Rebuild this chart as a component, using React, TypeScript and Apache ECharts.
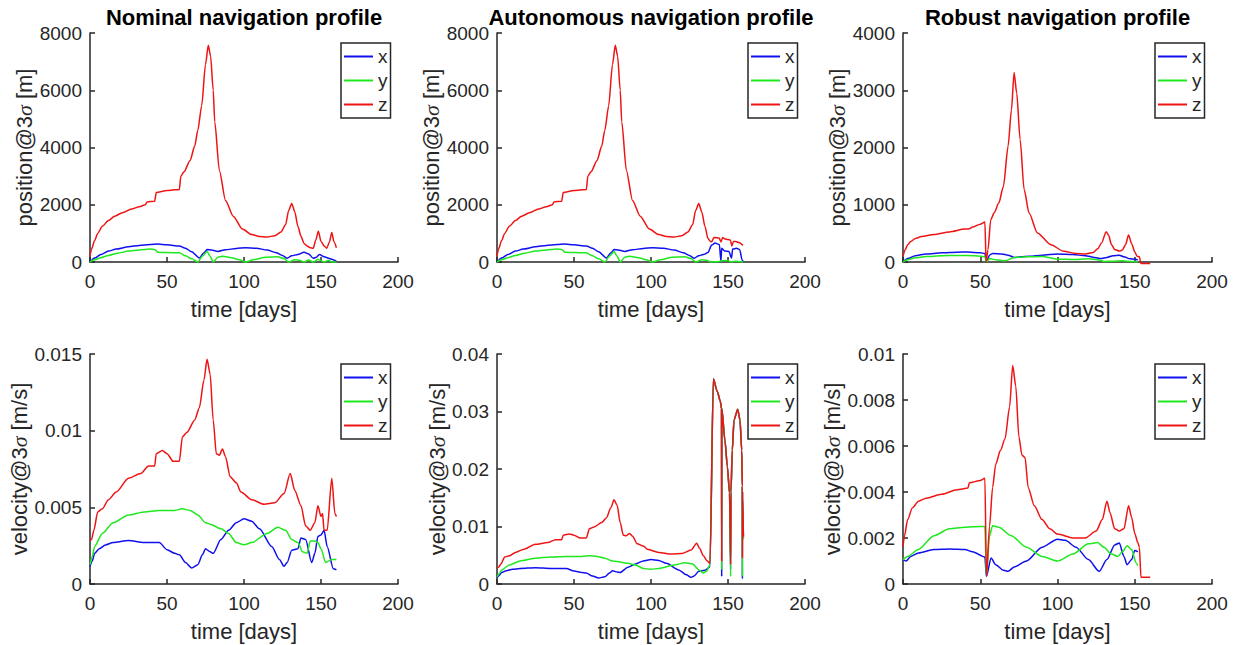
import React, { useEffect, useRef } from "react";
import * as echarts from "echarts";

type P = [number, number][];

const panelTitles = ["Nominal navigation profile", "Autonomous navigation profile", "Robust navigation profile"];
const legendNames = ["x", "y", "z"];
const lineColors = ["#1010ee", "#1ee81e", "#ee1414"];
const timeMax = 200;
const timeStep = 50;
const posMax = [8000, 8000, 4000];
const posStep = [2000, 2000, 1000];
const velMax = [0.015, 0.04, 0.01];
const velStep = [0.005, 0.01, 0.002];
const xName = "time [days]";
const posName = "{n|position@3}{s|σ}{n| [m]}";
const velName = "{n|velocity@3}{s|σ}{n| [m/s]}";

// ---------- Nominal: position ----------
const nomPosX: P = [[0,0],[3,140],[7,260],[12,380],[17,450],[25,530],[32,580],[39,610],[44,630],[50,600],[58,560],[62,480],[66,360],[71,140],[74,320],[76,440],[79,420],[83,370],[88,430],[95,470],[101,500],[108,480],[115,420],[121,320],[125,230],[128,130],[131,220],[135,260],[139,340],[142,280],[145,130],[147,170],[149,260],[152,180],[155,130],[158,80],[160,20]];
const nomPosY: P = [[0,0],[3,80],[7,150],[12,230],[18,310],[25,380],[32,420],[39,450],[42,440],[44,340],[50,330],[58,320],[62,220],[66,110],[70,0],[73,200],[76,370],[78,200],[80,0],[83,170],[86,200],[92,150],[97,80],[101,0],[106,80],[114,170],[122,180],[126,120],[129,0],[133,80],[136,60],[139,0],[142,70],[145,0],[148,100],[150,40],[152,0],[155,60],[157,0],[160,0]];
const nomPosZ: P = [[0,200],[1,450],[3,750],[5,1000],[8,1250],[12,1450],[16,1600],[21,1720],[27,1850],[32,1930],[36,2000],[37,2100],[42,2120],[43,2430],[50,2500],[55,2520],[58,2530],[59,3000],[61,3150],[65,3550],[68,4050],[70,4600],[72.5,5450],[75,6900],[76.8,7570],[78.3,7200],[80,6000],[81,4900],[84,3200],[88,2150],[93,1600],[99,1150],[105,960],[110,890],[115,870],[120,920],[124,1050],[127,1300],[129,1800],[131,2040],[133,1750],[135,1250],[137,900],[139,650],[141,560],[143,500],[145,480],[146.5,750],[148.3,1070],[150,720],[152,560],[153.7,480],[155.5,700],[157,1030],[158.4,710],[160,500]];

// ---------- Autonomous: position (tails after the common part) ----------
const autoPosXTail: P = [[131,220],[134,260],[137,330],[139.4,590],[141.6,660],[144.4,610],[145.4,30],[145.9,480],[148,380],[150.6,370],[152.3,140],[153,450],[155.5,480],[157.6,430],[159.2,60],[160,0]];
const autoPosYTail: P = [[133,80],[136,60],[139,0],[143,10],[145,30],[148,50],[150,40],[152,0],[155,30],[160,0]];
const autoPosZTail: P = [[131,2040],[133,1750],[135,1250],[137,820],[138.5,720],[139.5,710],[140.8,860],[144.2,840],[145.5,700],[146.5,860],[148,800],[151.5,770],[152.5,560],[153.5,720],[155,720],[157,680],[159.7,580]];

// ---------- Robust: position ----------
const robPosX: P = [[0,0],[3,60],[8,110],[15,140],[25,160],[35,170],[42,175],[50,160],[53,150],[54,0],[56,120],[58,150],[64,140],[68,120],[72,80],[76,90],[82,100],[90,120],[100,140],[110,130],[118,110],[124,80],[128,60],[132,80],[136,110],[140,120],[143,90],[147,55],[150,50],[152,40]];
const robPosY: P = [[0,0],[3,40],[8,75],[15,95],[25,110],[35,115],[42,115],[50,100],[53,90],[54,0],[56,60],[60,40],[66,20],[72,80],[80,90],[90,95],[100,50],[110,45],[120,55],[126,40],[130,10],[136,15],[142,20],[148,10],[152,5]];
const robPosZ: P = [[0,100],[1.5,220],[3,300],[5,360],[8,410],[12,445],[20,480],[30,525],[40,575],[43,580],[45,610],[50,660],[53,700],[53.8,0],[55,215],[56.8,740],[59,860],[62,1030],[65,1320],[68,2020],[70.2,2660],[71.9,3310],[73.6,2950],[75.8,2140],[78.4,1265],[81.6,856],[87,507],[95.7,303],[104,186],[112,150],[118,140],[123,165],[126,230],[128.5,330],[131.5,530],[133,470],[135,300],[137,220],[140,190],[142,210],[144,300],[146,470],[148,320],[150,180],[151.5,100],[153,90],[154,-25],[160,-25]];

// ---------- Nominal: velocity ----------
const nomVelX: P = [[0,0.00115],[1.5,0.0015],[3,0.002],[6,0.0023],[10,0.00255],[15,0.0027],[25,0.00284],[35,0.0027],[45,0.0027],[50,0.00224],[55,0.002],[58,0.0019],[62,0.0014],[66,0.00104],[70,0.00126],[73,0.0019],[75,0.0023],[78,0.0021],[80,0.002],[85,0.0029],[90,0.0035],[95,0.004],[100,0.00425],[105,0.0041],[110,0.0036],[118,0.00245],[123,0.0016],[126,0.00115],[128,0.0014],[131,0.0022],[135,0.0023],[137,0.003],[140,0.0029],[144,0.0014],[146,0.002],[148,0.0031],[150,0.0032],[152,0.0035],[154,0.00245],[158,0.001],[160,0.00093]];
const nomVelY: P = [[0,0.00126],[1.5,0.0018],[3,0.00245],[8,0.0033],[15,0.004],[25,0.0045],[35,0.0047],[45,0.0048],[55,0.0048],[60,0.0049],[65,0.0048],[70,0.0045],[75,0.004],[78,0.0039],[85,0.0036],[90,0.0033],[95,0.0027],[100,0.00256],[105,0.0027],[115,0.0033],[122,0.0037],[127,0.0035],[131,0.0029],[135,0.0027],[138,0.0021],[141,0.002],[143,0.0028],[146,0.0028],[148,0.0027],[150,0.0023],[153,0.0014],[157,0.0016],[160,0.0016]];
const nomVelZ: P = [[0,0.0028],[1,0.0029],[2.5,0.0035],[5,0.0047],[8,0.0049],[12,0.0055],[17,0.006],[25,0.0069],[33,0.0072],[38,0.0077],[42,0.0077],[43,0.0085],[47,0.0087],[50,0.0085],[54,0.008],[58,0.008],[60,0.0096],[63,0.0099],[68,0.0107],[71,0.0115],[74,0.0133],[76,0.01465],[78,0.0137],[80,0.0107],[82,0.0085],[84,0.0084],[86,0.0088],[88,0.0083],[91,0.007],[95,0.0066],[98,0.006],[105,0.0055],[113,0.0052],[120,0.0053],[126,0.0059],[130,0.0072],[133,0.0061],[137,0.0051],[140,0.0038],[143,0.0035],[146,0.004],[148,0.0051],[150,0.0044],[151,0.0046],[152,0.0035],[154,0.0035],[157,0.0069],[159,0.0046],[160,0.0044]];

// ---------- Autonomous: velocity (tails after the common part) ----------
const autoVelXTail: P = [[128,0.0014],[131,0.0022],[135,0.0024],[138.3,0.003],[140.5,0.0357],[143,0.0335],[145,0.0318],[145.8,0.0305],[145.9,0.0013],[146,0.0305],[148,0.025],[149.6,0.0204],[151,0.0158],[151.7,0.0025],[151.9,0.016],[152.8,0.0233],[153.9,0.0285],[156.3,0.0304],[157.8,0.0285],[158.9,0.0233],[159.3,0.017],[159.35,0.0009],[159.4,0.016],[160,0.0082]];
const autoVelYTail: P = [[127,0.0035],[131,0.0025],[134,0.0019],[136,0.0022],[138.3,0.0033],[140.5,0.0357],[143,0.0335],[145,0.0318],[145.8,0.0305],[145.9,0.0025],[146,0.0305],[148,0.025],[149.6,0.0204],[151,0.0158],[151.7,0.0013],[151.9,0.016],[152.8,0.0233],[153.9,0.0285],[156.3,0.0304],[157.8,0.0285],[158.9,0.0233],[159.3,0.017],[159.35,0.0013],[159.4,0.016],[160,0.0078]];
const autoVelZTail: P = [[126,0.0059],[129.7,0.0071],[131.5,0.0062],[134,0.0049],[136.5,0.004],[138.3,0.0036],[140.5,0.0357],[143,0.0335],[145,0.0318],[145.8,0.0305],[145.9,0.0039],[146,0.0305],[148,0.025],[149.6,0.0204],[151,0.0158],[151.7,0.0034],[151.9,0.016],[152.8,0.0233],[153.9,0.0285],[156.3,0.0304],[157.8,0.0285],[158.9,0.0233],[159.3,0.017],[159.35,0.0045],[159.4,0.016],[160,0.0082]];

// ---------- Robust: velocity ----------
const robVelX: P = [[0,0.00106],[2,0.001],[5,0.0012],[10,0.00135],[20,0.0015],[30,0.00152],[40,0.0015],[45,0.0014],[53,0.00117],[54,0.00033],[57,0.00113],[60,0.00084],[65,0.0006],[68,0.00055],[72,0.00074],[80,0.001],[90,0.0016],[100,0.00195],[105,0.0019],[112,0.0016],[120,0.00106],[127,0.00055],[132,0.00106],[137,0.0017],[140,0.00178],[143,0.0012],[145,0.00084],[148,0.00106],[150,0.00146],[152,0.0014]];
const robVelY: P = [[0,0.00106],[3,0.0012],[10,0.0015],[20,0.0021],[30,0.0024],[40,0.00247],[50,0.0025],[53,0.0025],[54,0.00033],[56,0.0021],[58,0.00253],[62,0.00247],[70,0.0021],[80,0.0016],[90,0.0012],[100,0.001],[110,0.0013],[120,0.00175],[126,0.0018],[130,0.0016],[135,0.0013],[139,0.0012],[142,0.0014],[145,0.00166],[148,0.0015],[151,0.0009],[152,0.0008]];
const robVelZ: P = [[0,0.00164],[1,0.0021],[3,0.0028],[6,0.0033],[10,0.0036],[15,0.00373],[25,0.0039],[35,0.0041],[42,0.00417],[43,0.0044],[50,0.0045],[53,0.0046],[54,0.00033],[56,0.0025],[58,0.0042],[60,0.0052],[63,0.0058],[66,0.0063],[69,0.0077],[71,0.0095],[73,0.0086],[75,0.0064],[77,0.0056],[79,0.0055],[81,0.0042],[85,0.0034],[90,0.0028],[95,0.0024],[100,0.00217],[110,0.002],[118,0.002],[125,0.0023],[129,0.0028],[132,0.0036],[134,0.0031],[137,0.0024],[140,0.0023],[143,0.0024],[146,0.0034],[148,0.0029],[150,0.0022],[152,0.0018],[153,0.0016],[154,0.00029],[160,0.00029]];

function joinAt(base: P, tail: P): P {
  const start = tail[0][0];
  return [...base.filter((p) => p[0] < start), ...tail];
}

const autoPosX = joinAt(nomPosX, autoPosXTail);
const autoPosY = joinAt(nomPosY, autoPosYTail);
const autoPosZ = joinAt(nomPosZ, autoPosZTail);
const autoVelX = joinAt(nomVelX, autoVelXTail);
const autoVelY = joinAt(nomVelY, autoVelYTail);
const autoVelZ = joinAt(nomVelZ, autoVelZTail);

const panelData: P[][] = [
  [nomPosX, nomPosY, nomPosZ],
  [autoPosX, autoPosY, autoPosZ],
  [robPosX, robPosY, robPosZ],
  [nomVelX, nomVelY, nomVelZ],
  [autoVelX, autoVelY, autoVelZ],
  [robVelX, robVelY, robVelZ],
];

const FONT = "'Liberation Sans', Arial, Helvetica, sans-serif";
const INK = "#262626";
const TICK_FS = 19;
const NAME_FS = 22;

const gridLefts = [90, 497, 903];
const gridWidths = [308, 308, 309];
const gridTops = [33, 354];
const gridHeights = [229, 230];
const yNameGaps = [54, 53, 53, 57, 48, 60];

function tickText(v: number): string {
  return String(Number(v.toPrecision(10)));
}

export default function App() {
  const ref = useRef<HTMLDivElement>(null);

  useEffect(() => {
    if (!ref.current) return;
    const chart = echarts.init(ref.current, undefined, { renderer: "svg" });

    const grids: any[] = [];
    const xAxes: any[] = [];
    const yAxes: any[] = [];
    const legends: any[] = [];
    const series: any[] = [];

    for (let p = 0; p < 6; p++) {
      const row = Math.floor(p / 3);
      const col = p % 3;
      grids.push({
        left: gridLefts[col],
        top: gridTops[row],
        width: gridWidths[col],
        height: gridHeights[row],
        containLabel: false,
      });
      xAxes.push({
        type: "value",
        gridIndex: p,
        min: 0,
        max: timeMax,
        interval: timeStep,
        name: xName,
        nameLocation: "middle",
        nameGap: 36,
        nameTextStyle: { fontSize: NAME_FS, color: INK, fontFamily: FONT },
        axisLine: { show: true, onZero: false, lineStyle: { color: INK, width: 1.5 } },
        axisTick: { show: true, inside: true, length: 5, lineStyle: { color: INK, width: 1.5 } },
        axisLabel: { fontSize: TICK_FS, color: INK, fontFamily: FONT, margin: 10, formatter: tickText },
        splitLine: { show: false },
      });
      const isPos = row === 0;
      yAxes.push({
        type: "value",
        gridIndex: p,
        min: 0,
        max: isPos ? posMax[col] : velMax[col],
        interval: isPos ? posStep[col] : velStep[col],
        name: isPos ? posName : velName,
        nameLocation: "middle",
        nameGap: yNameGaps[p],
        nameTextStyle: {
          fontSize: NAME_FS,
          color: INK,
          fontFamily: FONT,
          rich: {
            n: { fontSize: NAME_FS, color: INK, fontFamily: FONT },
            s: { fontSize: NAME_FS, color: INK, fontFamily: "'Liberation Serif', 'DejaVu Serif', serif", fontStyle: "italic" },
          },
        },
        axisLine: { show: true, onZero: false, lineStyle: { color: INK, width: 1.5 } },
        axisTick: { show: true, inside: true, length: 5, lineStyle: { color: INK, width: 1.5 } },
        axisLabel: { fontSize: TICK_FS, color: INK, fontFamily: FONT, margin: 8, formatter: tickText },
        splitLine: { show: false },
      });
      legends.push({
        data: legendNames.map((n) => ({ name: n, icon: "rect" })),
        orient: "vertical",
        left: gridLefts[col] + gridWidths[col] - 57,
        top: gridTops[row] + 10,
        itemWidth: 29,
        itemHeight: 2,
        itemGap: 5,
        padding: [4, 3, 4, 3],
        borderColor: INK,
        borderWidth: 1.5,
        borderRadius: 0,
        backgroundColor: "#ffffff",
        selectedMode: false,
        textStyle: { fontSize: TICK_FS, color: INK, fontFamily: FONT },
      });
      for (let k = 0; k < 3; k++) {
        series.push({
          type: "line",
          name: legendNames[k],
          xAxisIndex: p,
          yAxisIndex: p,
          data: panelData[p][k],
          showSymbol: false,
          symbol: "none",
          smooth: 0.25,
          smoothMonotone: "x",
          clip: false,
          silent: true,
          lineStyle: { width: 1.5, color: lineColors[k] },
          itemStyle: { color: lineColors[k] },
          emphasis: { disabled: true },
        });
      }
    }

    const graphics: any[] = panelTitles.map((t, c) => ({
      type: "text",
      x: gridLefts[c] + gridWidths[c] / 2,
      y: 17,
      style: {
        text: t,
        font: `bold ${NAME_FS}px ${FONT}`,
        fill: "#000000",
        textAlign: "center",
        textVerticalAlign: "middle",
      },
    }));

    chart.setOption({
      animation: false,
      backgroundColor: "#ffffff",
      grid: grids,
      xAxis: xAxes,
      yAxis: yAxes,
      legend: legends,
      series,
      graphic: graphics,
    });

    return () => chart.dispose();
  }, []);

  return (
    <div
      ref={ref}
      style={{ position: "fixed", left: 0, top: 0, width: 1236, height: 645, background: "#fff" }}
    />
  );
}
